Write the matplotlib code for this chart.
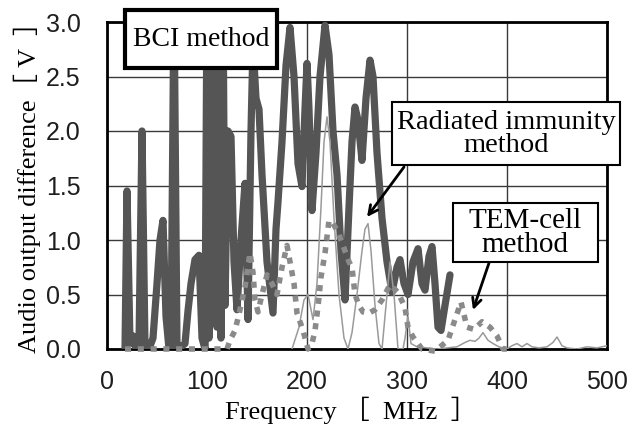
import matplotlib
matplotlib.use("Agg")
import matplotlib.pyplot as plt
from matplotlib.patches import Rectangle

# ---------------- data ----------------
bci_freq = [18, 20, 23, 26, 29, 32, 35, 38, 42, 46, 50, 53, 56, 59, 62, 64, 67, 70,
            74, 78, 81, 84, 88, 92, 95, 98, 100, 102, 104, 106, 108, 110, 112, 114,
            116, 118, 121, 124, 127, 130, 134, 138, 141, 144, 146, 149, 152, 155,
            160, 166, 169, 171, 175, 179, 183, 187, 191, 195, 198, 200, 202, 205,
            209, 213, 218, 222, 226, 230, 234, 238, 242, 245, 248, 251, 255, 259,
            263, 266, 270, 275, 280, 285, 290, 293, 297, 301, 306, 311, 315, 318,
            322, 325, 328, 331, 334, 338, 343]
bci_volt = [0.0, 1.45, 0.05, 0.12, 0.0, 0.05, 2.0, 0.02, 0.0, 0.1, 0.6, 1.0, 1.18, 0.3,
            0.0, 0.0, 3.3, 0.0, 0.02, 0.05, 0.35, 0.6, 0.82, 0.86, 0.1, 0.0, 3.3, 0.1,
            3.3, 0.3, 3.3, 0.2, 3.3, 0.1, 3.3, 0.4, 2.0, 1.95, 0.8, 0.36, 1.0, 1.52,
            0.27, 2.0, 2.8, 2.3, 2.2, 1.6, 0.8, 0.33, 1.1, 1.35, 1.9, 2.6, 2.95, 2.5,
            1.7, 1.49, 2.2, 2.62, 2.2, 1.27, 1.8, 2.5, 2.97, 2.7, 2.0, 1.6, 0.9, 0.45,
            1.3, 1.9, 2.22, 2.1, 1.73, 2.3, 2.65, 2.5, 1.8, 1.2, 0.8, 0.52, 0.75, 0.82,
            0.6, 0.5, 0.8, 0.92, 0.6, 0.54, 0.85, 0.94, 0.6, 0.2, 0.17, 0.4, 0.68]

rad_freq = [185, 192, 197, 201, 206, 210, 214, 217, 220, 223, 227, 232, 237, 241, 245,
            250, 255, 258, 261, 264, 268, 272, 275, 279, 283, 287, 291, 296, 298, 301,
            304, 310, 330, 350, 358, 363, 368, 372, 376, 381, 386, 392, 400, 405, 410,
            415, 420, 425, 432, 440, 446, 450, 455, 460, 470, 480, 490, 500]
rad_volt = [0.0, 0.2, 0.45, 0.5, 0.27, 0.6, 1.3, 1.9, 2.13, 1.9, 1.2, 0.5, 0.1, 0.0,
            0.15, 0.5, 0.9, 1.1, 1.15, 0.9, 0.4, 0.05, 0.0, 0.4, 0.8, 0.5, 0.0, 0.0,
            0.1, 0.3, 0.05, 0.02, 0.0, 0.02, 0.06, 0.08, 0.07, 0.1, 0.15, 0.08, 0.05,
            0.02, 0.0, 0.03, 0.05, 0.02, 0.05, 0.02, 0.01, 0.02, 0.06, 0.11, 0.03,
            0.01, 0.0, 0.02, 0.01, 0.03]

tem_freq = [18, 40, 60, 80, 100, 120, 123, 128, 133, 138, 143, 146, 148, 151, 155, 160,
            165, 170, 175, 180, 183, 187, 190, 196, 201, 205, 208, 211, 214, 218, 222,
            226, 230, 234, 238, 242, 245, 248, 252, 256, 262, 268, 275, 283, 291, 298,
            301, 306, 315, 328, 341, 348, 354, 360, 367, 375, 383, 390, 396, 400]
tem_volt = [0.0, 0.0, 0.0, 0.0, 0.0, 0.0, 0.08, 0.17, 0.36, 0.57, 0.88, 0.7, 0.45, 0.34,
            0.5, 0.68, 0.6, 0.5, 0.75, 0.95, 0.8, 0.6, 0.33, 0.17, 0.0, 0.05, 0.17, 0.39,
            0.66, 0.88, 1.18, 1.15, 1.09, 1.0, 0.9, 0.8, 0.75, 0.5, 0.4, 0.34, 0.33,
            0.36, 0.45, 0.59, 0.52, 0.38, 0.2, 0.11, 0.0, -0.02, 0.08, 0.27, 0.43, 0.2,
            0.18, 0.25, 0.2, 0.12, 0.0, 0.0]

x_ticks = [0, 100, 200, 300, 400, 500]
y_ticks = [0.0, 0.5, 1.0, 1.5, 2.0, 2.5, 3.0]
x_label = "Frequency ［  MHz  ］"
y_label = "Audio output difference［ V  ］"
label_bci = "BCI method"
label_rad = "Radiated immunity\nmethod"
label_tem = "TEM-cell\nmethod"

# ---------------- figure ----------------
W, H = 636, 429
fig = plt.figure(figsize=(W / 100, H / 100), dpi=100)
fig.patch.set_facecolor("white")

def fx(px):
    return px / W

def fy(py):
    return 1 - py / H

ax = fig.add_axes([fx(107), fy(349), 500 / W, 327 / H])
ax.set_xlim(0, 500)
ax.set_ylim(0, 3.0)

ax.plot(bci_freq, bci_volt, color="#555555", lw=5.2, solid_joinstyle="round",
        solid_capstyle="round", zorder=3)
ax.plot(rad_freq, rad_volt, color="#9a9a9a", lw=1.1, zorder=4)
ax.plot(tem_freq, tem_volt, color="#8a8a8a", lw=4.0, linestyle=(0, (1.1, 1.2)),
        dash_capstyle="butt", zorder=5, clip_on=False)

ax.set_xticks(x_ticks)
ax.set_xticklabels([str(v) for v in x_ticks])
ax.set_yticks(y_ticks)
ax.set_yticklabels([f"{v:.1f}" for v in y_ticks])
ax.tick_params(axis="both", length=0, labelsize=18, colors="#1e1e1e")
ax.tick_params(axis="y", pad=19)
ax.tick_params(axis="x", pad=15)
for lab in ax.get_xticklabels() + ax.get_yticklabels():
    lab.set_fontfamily("Liberation Sans")

ax.grid(True, color="#3a3a3a", lw=1.0, zorder=1)
ax.set_axisbelow(True)
for sp in ax.spines.values():
    sp.set_linewidth(2.0)
    sp.set_color("black")

serif = ["Liberation Serif", "Noto Sans CJK JP", "DejaVu Sans"]
fig.text(fx(351), fy(410), x_label, ha="center", va="center", fontsize=19,
         family=serif)
fig.text(fx(27), fy(181), y_label, ha="center", va="center", fontsize=19,
         family=serif, rotation=90)

# annotation boxes
def box(x0, y0, x1, y1, lw):
    r = Rectangle((fx(x0), fy(y1)), fx(x1) - fx(x0), fy(y0) - fy(y1),
                  transform=fig.transFigure, facecolor="white", edgecolor="black",
                  lw=lw, zorder=10)
    fig.patches.append(r)

box(125, 10, 277, 68, 3.0)
fig.text(fx(201), fy(40), label_bci, ha="center", va="center", fontsize=20,
         family=serif, zorder=11)

box(392, 102, 620, 165, 1.5)
fig.text(fx(506), fy(134), label_rad, ha="center", va="center", fontsize=20.5,
         family=serif, linespacing=0.9, multialignment="center", zorder=11)

box(453, 203, 598, 262, 1.5)
fig.text(fx(525), fy(233), label_tem, ha="center", va="center", fontsize=21,
         family=serif, linespacing=0.9, multialignment="center", zorder=11)

arrow = dict(arrowstyle="->", lw=2.0, color="black", mutation_scale=16,
             shrinkA=0, shrinkB=0)
ax.annotate("", xy=(367, H - 217), xytext=(404, H - 167),
            xycoords="figure pixels", textcoords="figure pixels", arrowprops=arrow)
ax.annotate("", xy=(473, H - 310), xytext=(489, H - 263),
            xycoords="figure pixels", textcoords="figure pixels", arrowprops=arrow)

fig.savefig("out.png", dpi=100)
